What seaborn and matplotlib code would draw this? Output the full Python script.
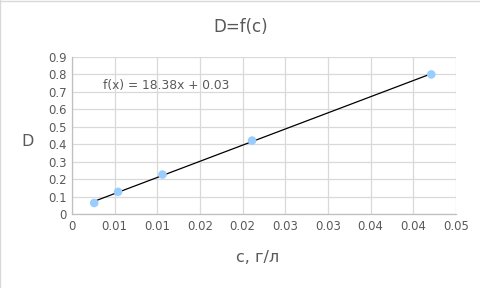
import numpy as np
import pandas as pd
import matplotlib
matplotlib.use("Agg")
import matplotlib.pyplot as plt
import seaborn as sns
from matplotlib.lines import Line2D

# Data
c_values = [0.0026, 0.0054, 0.0106, 0.0211, 0.0421]
d_values = [0.063, 0.127, 0.226, 0.421, 0.800]
x_ticks = [0, 0.005, 0.01, 0.015, 0.02, 0.025, 0.03, 0.035, 0.04, 0.045]
x_tick_labels = ["0", "0.01", "0.01", "0.02", "0.02", "0.03", "0.03", "0.04", "0.04", "0.05"]
y_ticks = [0, 0.1, 0.2, 0.3, 0.4, 0.5, 0.6, 0.7, 0.8, 0.9]
y_tick_labels = ["0", "0.1", "0.2", "0.3", "0.4", "0.5", "0.6", "0.7", "0.8", "0.9"]
title = "D=f(c)"
x_label = "c, г/л"
y_label = "D"
equation = "f(x) = 18.38x + 0.03"

df = pd.DataFrame({"c": c_values, "D": d_values})

sns.set_theme(style="white")
plt.rcParams["font.family"] = ["DejaVu Sans"]

fig = plt.figure(figsize=(4.8, 2.88), dpi=100)
ax = fig.add_axes([72 / 480, 1 - 214 / 288, (456 - 72) / 480, (214 - 57) / 288])

text_color = "#595959"
grid_color = "#d9d9d9"

# trendline
slope, intercept = np.polyfit(df["c"], df["D"], 1)
xs = np.array([df["c"].min(), df["c"].max()])
ax.plot(xs, slope * xs + intercept, color="black", linewidth=0.9, zorder=2)

sns.scatterplot(data=df, x="c", y="D", ax=ax, color="#99ccff", s=38,
                edgecolor="none", zorder=3, legend=False)

ax.set_xlim(0, 0.045)
ax.set_ylim(0, 0.9)
ax.set_xticks(x_ticks)
ax.set_xticklabels(x_tick_labels)
ax.set_yticks(y_ticks)
ax.set_yticklabels(y_tick_labels)
ax.tick_params(axis="both", labelsize=8.4, colors=text_color, length=0, pad=4)

ax.grid(True, color=grid_color, linewidth=0.9)
ax.set_axisbelow(True)
for side in ["top", "right"]:
    ax.spines[side].set_visible(False)
for side in ["left", "bottom"]:
    ax.spines[side].set_color("#bfbfbf")
    ax.spines[side].set_linewidth(0.9)

ax.set_xlabel("")
ax.set_ylabel("")
fig.text(258 / 480, 1 - 258 / 288, x_label, ha="center", va="center",
         fontsize=11.5, color=text_color)
fig.text(28 / 480, 1 - 142 / 288, y_label, ha="center", va="center",
         fontsize=11.5, color=text_color)
fig.text(241 / 480, 1 - 27 / 288, title, ha="center", va="center",
         fontsize=12, color=text_color)
ax.text(0.0036, 0.735, equation, fontsize=8.8, color=text_color, ha="left", va="center")

# chart border (top and left edges)
fig.add_artist(Line2D([0.001, 0.001], [0, 1], transform=fig.transFigure,
                      color=grid_color, linewidth=1))
fig.add_artist(Line2D([0, 1], [0.998, 0.998], transform=fig.transFigure,
                      color=grid_color, linewidth=1))

fig.savefig("out.png", dpi=100)
